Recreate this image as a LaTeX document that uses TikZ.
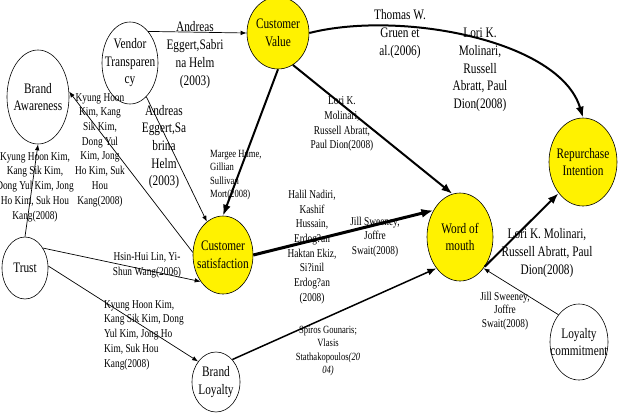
\documentclass[tikz,border=0pt]{standalone}
\usepackage{fontspec}
\setmainfont[FakeStretch=0.78]{Liberation Serif}
\usetikzlibrary{shapes.geometric, arrows.meta}

\begin{document}
\begin{tikzpicture}[
    x=1pt, y=-1pt,
    factor/.style={ellipse, draw=black, fill=white, inner sep=0pt, line width=0.6pt},
    keyfactor/.style={factor, fill=yellow},
    inside/.style={align=center, inner sep=0pt, font=\fontsize{14.5}{17.5}\selectfont},
    cite/.style={align=center, inner sep=0pt, font=\fontsize{12}{14.7}\selectfont},
    bigcite/.style={cite, font=\fontsize{14.5}{17.7}\selectfont},
    smallcite/.style={cite, font=\fontsize{11}{13.2}\selectfont},
    arr/.style={-{Latex[length=6pt, width=4.5pt]}, line width=0.7pt},
    midarr/.style={-{Latex[length=9pt, width=7pt]}, line width=1.5pt},
    thickarr/.style={-{Latex[length=11pt, width=8pt]}, line width=2pt},
    boldarr/.style={-{Latex[length=12pt, width=9pt]}, line width=3pt}
]
\useasboundingbox (0,0) rectangle (619,413);

% factors
\node[factor, minimum width=56pt, minimum height=82pt,
      label={[inside]center:{Vendor\\Transparen\\cy}}]      (vt)    at (130,63)  {};
\node[factor, minimum width=62pt, minimum height=94pt,
      label={[inside]center:{Brand\\Awareness}}]            (ba)    at (38,97)   {};
\node[factor, minimum width=46pt, minimum height=62pt,
      label={[inside]center:{Trust}}]                       (trust) at (25,268)  {};
\node[keyfactor, minimum width=62pt, minimum height=72pt,
      label={[inside]center:{Customer\\Value}}]             (cv)    at (278,33)  {};
\node[keyfactor, minimum width=60pt, minimum height=78pt,
      label={[inside]center:{Customer\\satisfaction}}]      (cs)    at (223,255) {};
\node[factor, minimum width=48pt, minimum height=60pt,
      label={[inside]center:{Brand\\Loyalty}}]              (bl)    at (216,382) {};
\node[keyfactor, minimum width=66pt, minimum height=88pt,
      label={[inside]center:{Word of\\mouth}}]              (wom)   at (460,237) {};
\node[keyfactor, minimum width=68pt, minimum height=88pt,
      label={[inside]center:{Repurchase\\Intention}}]       (ri)    at (583,162) {};
\node[factor, minimum width=58pt, minimum height=76pt,
      label={[inside]center:{Loyalty\\commitment}}]         (lc)    at (579,342) {};

% links
\draw[arr]      (vt.60)    -- (cv.west);
\draw[arr]      (vt)       -- (cs);
\draw[arr]      (cs.175)   -- (ba.10);
\draw[arr]      (trust.north) -- (ba.south);
\draw[arr]      (trust.48) -- (cs.230);
\draw[arr]      (trust.5)  -- (bl.131);
\draw[thickarr] (cv.south) -- (cs.north);
\draw[thickarr] (cv.-65)   -- (wom.100);
\draw[thickarr] (cv.east) .. controls (400,10) and (560,40) .. (ri.north);
\draw[boldarr]  (cs.east)  -- (wom.135);
\draw[midarr]   (bl.54)    -- (wom.233);
\draw[thickarr] (wom.-50)  -- (ri.232);
\draw[arr]      (lc.127)   -- (wom.-53);

% references
\node[bigcite]   (citeVTCV)   at (195,55)  {Andreas\\Eggert,Sabri\\na Helm\\(2003)};
\node[bigcite]   (citeVTCS)   at (164,147) {Andreas\\Eggert,Sa\\brina\\Helm\\(2003)};
\node[cite]      (citeCSBA)   at (100,150) {Kyung Hoon\\Kim, Kang\\Sik Kim,\\Dong Yul\\Kim, Jong\\Ho Kim, Suk\\Hou\\Kang(2008)};
\node[cite]      (citeTRBA)   at (35,187)  {Kyung Hoon Kim,\\Kang Sik Kim,\\Dong Yul Kim, Jong\\Ho Kim, Suk Hou\\Kang(2008)};
\node[cite]      (citeTRCS)   at (147,265) {Hsin-Hui Lin, Yi-\\Shun Wang(2006)};
\node[cite, align=left, anchor=west] (citeTRBL) at (104,335) {Kyung Hoon Kim,\\Kang Sik Kim, Dong\\Yul Kim, Jong Ho\\Kim, Suk Hou\\Kang(2008)};
\node[smallcite, align=left, anchor=west] (citeCVCS) at (210,175) {Margee Hume,\\Gillian\\Sullivan\\Mort(2008)};
\node[cite]      (citeCVWOM)  at (342,124) {Lori K.\\Molinari,\\Russell Abratt,\\Paul Dion(2008)};
\node[bigcite]   (citeCVRI)   at (400,34)  {Thomas W.\\Gruen et\\al.(2006)};
\node[bigcite]   (citeCVRI2)  at (480,70)  {Lori K.\\Molinari,\\Russell\\Abratt, Paul\\Dion(2008)};
\node[cite]      (citeCSWOM)  at (312,247) {Halil Nadiri,\\Kashif\\Hussain,\\Erdog?an\\Haktan Ekiz,\\Si?inil\\Erdog?an\\(2008)};
\node[cite]      (citeCSWOM2) at (375,237) {Jill Sweeney,\\Joffre\\Swait(2008)};
\node[smallcite] (citeBLWOM)  at (328,351) {Spiros Gounaris;\\Vlasis\\Stathakopoulos\textit{(20}\\\textit{04)}};
\node[cite, font=\fontsize{12}{13.4}\selectfont] (citeLCWOM) at (505,311) {Jill Sweeney,\\Joffre\\Swait(2008)};
\node[bigcite]   (citeWOMRI)  at (547,253) {Lori K. Molinari,\\Russell Abratt, Paul\\Dion(2008)};
\end{tikzpicture}
\end{document}
